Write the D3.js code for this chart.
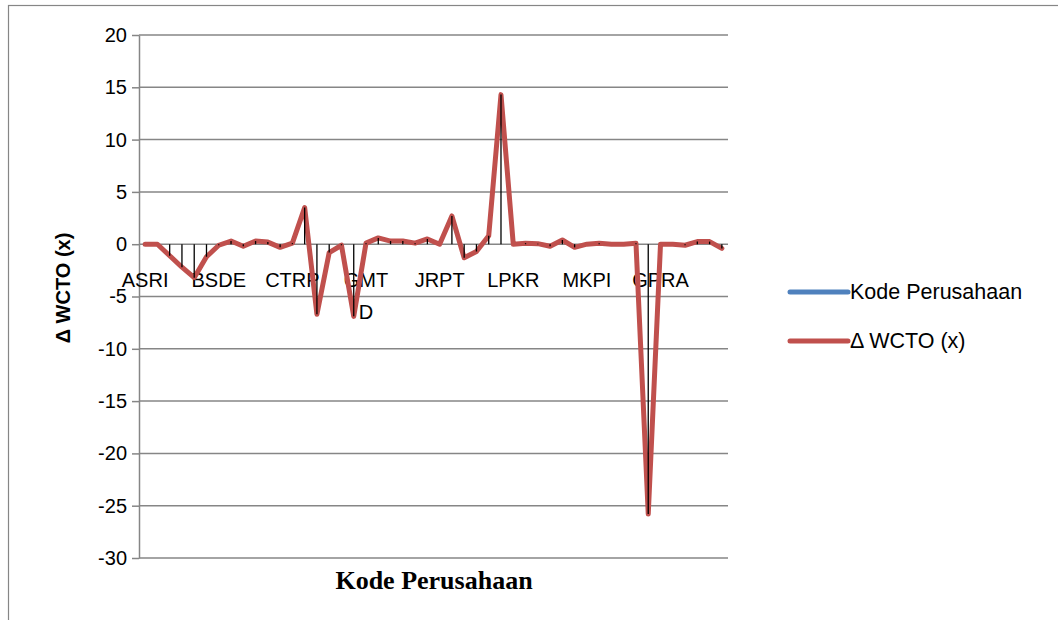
<!DOCTYPE html>
<html>
<head>
<meta charset="utf-8">
<script src="https://cdn.jsdelivr.net/npm/d3@7/dist/d3.min.js"></script>
<style>
  html, body { margin: 0; padding: 0; background: #fff; }
  svg { display: block; }
</style>
</head>
<body>
<svg id="chart" width="1058" height="620"></svg>
<script>
// ---- data ----
const categoryCount = 48;
const labelEvery = 6;
const tickLabels = [["ASRI"], ["BSDE"], ["CTRP"], ["GMT", "D"], ["JRPT"], ["LPKR"], ["MKPI"], ["GPRA"]];
const values = [0, 0, -1.1, -2.2, -3.2, -1.2, -0.1, 0.3, -0.2, 0.3,
                0.2, -0.3, 0.1, 3.5, -6.7, -0.8, -0.1, -6.9, 0.1, 0.6,
                0.3, 0.3, 0.1, 0.5, 0, 2.7, -1.3, -0.7, 0.8, 14.3,
                0, 0.1, 0.05, -0.2, 0.4, -0.3, 0, 0.1, 0, 0,
                0.1, -25.8, 0, 0, -0.1, 0.25, 0.25, -0.4];
const yTicks = [20, 15, 10, 5, 0, -5, -10, -15, -20, -25, -30];
const seriesNames = ["Kode Perusahaan", "\u0394 WCTO (x)"];
const seriesColors = ["#4F81BD", "#C0504D"];
const yTitle = "\u0394 WCTO (x)";
const xTitle = "Kode Perusahaan";

// ---- layout ----
const sans = "'Liberation Sans', Arial, sans-serif";
const serif = "'Liberation Serif', 'Times New Roman', serif";
const svg = d3.select("#chart");
const plot = { left: 139, right: 728, top: 35, bottom: 558 };
const gridColor = "#868686";

svg.append("rect")
  .attr("x", 8.5).attr("y", 5.5).attr("width", 1100).attr("height", 700)
  .attr("fill", "#fff").attr("stroke", gridColor).attr("stroke-width", 1.2);

const categories = d3.range(categoryCount);
const x = d3.scalePoint().domain(categories).range([plot.left, plot.right]).padding(0.5);
const y = d3.scaleLinear().domain([-30, 20]).range([plot.bottom, plot.top]);

// gridlines
svg.append("g").selectAll("line").data(yTicks).join("line")
  .attr("x1", plot.left).attr("x2", plot.right)
  .attr("y1", d => y(d)).attr("y2", d => y(d))
  .attr("stroke", gridColor).attr("stroke-width", 1.5);

// y axis
const yAxis = svg.append("g").attr("transform", `translate(${plot.left},0)`)
  .call(d3.axisLeft(y).tickValues(yTicks).tickSize(7).tickSizeOuter(0).tickPadding(5)
        .tickFormat(d => d < 0 ? "-" + Math.abs(d) : String(d)));
yAxis.select(".domain").attr("stroke", gridColor).attr("stroke-width", 1.5);
yAxis.selectAll(".tick line").attr("stroke", gridColor).attr("stroke-width", 1.5);
yAxis.selectAll(".tick text").style("font-size", "20px").style("font-family", sans).attr("fill", "#000");

// category labels
const labelG = svg.append("g");
tickLabels.forEach((lines, k) => {
  const t = labelG.append("text")
    .attr("x", x(k * labelEvery))
    .attr("y", 287)
    .attr("text-anchor", "middle")
    .style("font-size", "20px").style("font-family", sans)
    .attr("fill", "#000");
  lines.forEach((ln, j) => {
    t.append("tspan").attr("x", x(k * labelEvery)).attr("dy", j === 0 ? 0 : 32).text(ln);
  });
});

// series line
const line = d3.line().x((d, i) => x(i)).y(d => y(d));
svg.append("path").datum(values)
  .attr("d", line)
  .attr("fill", "none")
  .attr("stroke", seriesColors[1])
  .attr("stroke-width", 5)
  .attr("stroke-linejoin", "round")
  .attr("stroke-linecap", "round");

// drop lines
svg.append("g").selectAll("line").data(values).join("line")
  .attr("x1", (d, i) => x(i)).attr("x2", (d, i) => x(i))
  .attr("y1", y(0)).attr("y2", d => y(d))
  .attr("stroke", "#000").attr("stroke-width", 1.3);

// legend
const legend = svg.append("g");
seriesNames.forEach((name, i) => {
  const ly = 292 + i * 49;
  legend.append("line")
    .attr("x1", 790).attr("x2", 848).attr("y1", ly).attr("y2", ly)
    .attr("stroke", seriesColors[i]).attr("stroke-width", 5).attr("stroke-linecap", "round");
  legend.append("text").attr("x", 850).attr("y", ly + 7)
    .style("font-size", "21.5px").style("font-family", sans)
    .attr("fill", "#000").text(name);
});

// axis titles
svg.append("text")
  .attr("transform", `translate(70, 288) rotate(-90)`)
  .attr("text-anchor", "middle")
  .style("font-size", "20px").style("font-family", sans).style("font-weight", "bold")
  .attr("fill", "#000")
  .text(yTitle);

svg.append("text")
  .attr("x", 434).attr("y", 589)
  .attr("text-anchor", "middle")
  .style("font-size", "26px").style("font-family", serif).style("font-weight", "bold")
  .attr("fill", "#000")
  .text(xTitle);
</script>
</body>
</html>
